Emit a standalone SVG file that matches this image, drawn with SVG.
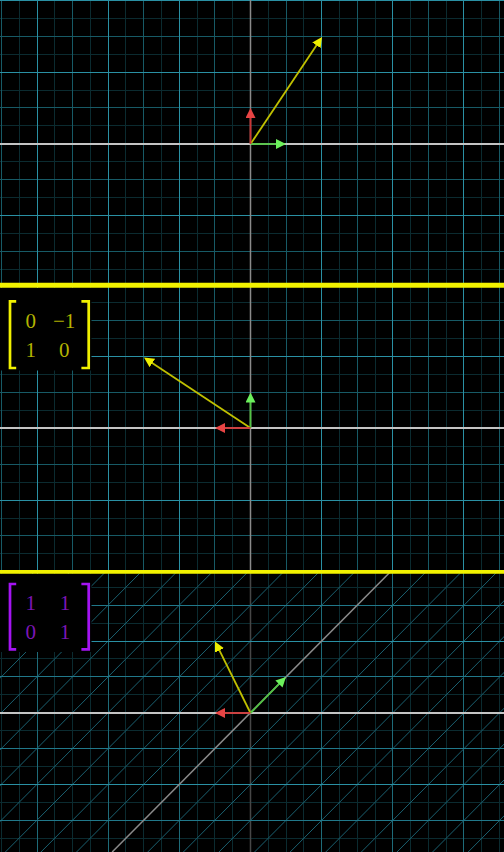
<svg xmlns="http://www.w3.org/2000/svg" width="504" height="852" viewBox="0 0 504 852">
<style>
.gu{stroke:#2a90a4;stroke-width:1;fill:none}
.gh{stroke:#175a66;stroke-width:1;fill:none}
.gh3{stroke:#21788a;stroke-width:1;fill:none}
.gq{stroke:#0b2b30;stroke-width:1;fill:none}
.gv{stroke:#1e6b79;stroke-width:1;fill:none}
.gd{stroke:#1a6070;stroke-width:1;fill:none}
.axh{stroke:#c4c4c4;stroke-width:2;fill:none}
.axv{stroke:#8a8a8a;stroke-width:1.5;fill:none}
.axs{stroke:#474747;stroke-width:1.5;fill:none}
.sep{stroke:#f2f200;fill:none}
.vy{stroke:#c0c000;stroke-width:1.8;fill:none}
.vg{stroke:#52c444;stroke-width:1.8;fill:none}
.vr{stroke:#cc3434;stroke-width:1.8;fill:none}
.mt{font-family:"Liberation Serif","Times New Roman",serif;font-size:21px;text-anchor:middle}
.bk{fill:none;stroke-width:2.7;stroke-linecap:butt;stroke-linejoin:miter}
</style>
<defs>
<marker id="hy" markerUnits="userSpaceOnUse" markerWidth="10" markerHeight="10" viewBox="0 0 10 10" refX="2" refY="5" orient="auto"><path d="M0,0L10,5L0,10z" fill="#eeee00"/></marker>
<marker id="hg" markerUnits="userSpaceOnUse" markerWidth="10" markerHeight="10" viewBox="0 0 10 10" refX="2" refY="5" orient="auto"><path d="M0,0L10,5L0,10z" fill="#6cf05c"/></marker>
<marker id="hr" markerUnits="userSpaceOnUse" markerWidth="10" markerHeight="10" viewBox="0 0 10 10" refX="2" refY="5" orient="auto"><path d="M0,0L10,5L0,10z" fill="#e84444"/></marker>
</defs>
<rect width="504" height="852" fill="#000"/>

<g id="grid-top">
<path class="gq" d="M19.5,0V572M54.5,0V572M90.5,0V572M125.5,0V572M161.5,0V572M197.5,0V572M232.5,0V572M268.5,0V572M303.5,0V572M339.5,0V572M375.5,0V572M410.5,0V572M446.5,0V572M481.5,0V572M0,18.5H504M0,54.5H504M0,90.5H504M0,125.5H504M0,161.5H504M0,197.5H504M0,233.5H504M0,269.5H504M0,302.5H504M0,338.5H504M0,374.5H504M0,410.5H504M0,446.5H504M0,482.5H504M0,518.5H504M0,553.5H504"/>
<path class="gh" d="M1.5,0V572M72.5,0V572M143.5,0V572M214.5,0V572M286.5,0V572M357.5,0V572M428.5,0V572M499.5,0V572M0,36.5H504M0,107.5H504M0,179.5H504M0,251.5H504M0,320.5H504M0,392.5H504M0,464.5H504M0,535.5H504"/>
<path class="gu" d="M37.5,0V572M108.5,0V572M179.5,0V572M321.5,0V572M392.5,0V572M463.5,0V572M0,0.5H504M0,72.5H504M0,215.5H504M0,356.5H504M0,500.5H504"/>
<path class="axv" d="M250.5,0V572"/>
<path class="axh" d="M0,144H504M0,428H504"/>
</g>

<g id="grid-bottom">
<path class="gq" d="M1.5,572V852M19.5,572V852M54.5,572V852M72.5,572V852M90.5,572V852M125.5,572V852M143.5,572V852M161.5,572V852M197.5,572V852M214.5,572V852M232.5,572V852M268.5,572V852M286.5,572V852M303.5,572V852M339.5,572V852M357.5,572V852M375.5,572V852M410.5,572V852M428.5,572V852M446.5,572V852M481.5,572V852M499.5,572V852M0,587.5H504M0,623.5H504M0,658.5H504M0,694.5H504M0,730.5H504M0,766.5H504M0,802.5H504M0,838.5H504"/>
<path class="gv" d="M37.5,572V852M108.5,572V852M179.5,572V852M321.5,572V852M392.5,572V852M463.5,572V852"/>
<path class="axs" d="M250.5,572V852"/>
<path class="gd" d="M34.71,571.5L-243.83,852M70.31,571.5L-208.23,852M105.91,571.5L-172.63,852M141.51,571.5L-137.03,852M177.11,571.5L-101.43,852M212.71,571.5L-65.83,852M248.31,571.5L-30.23,852M283.91,571.5L5.37,852M319.51,571.5L40.97,852M355.11,571.5L76.57,852M426.31,571.5L147.77,852M461.91,571.5L183.37,852M497.51,571.5L218.97,852M533.11,571.5L254.57,852M568.71,571.5L290.17,852M604.31,571.5L325.77,852M639.91,571.5L361.37,852M675.51,571.5L396.97,852M711.11,571.5L432.57,852M746.71,571.5L468.17,852M782.31,571.5L503.77,852"/>
<path class="gh3" d="M0,605.5H504M0,676.5H504M0,748.5H504M0,820.5H504"/>
<path class="gu" d="M0,641.5H504M0,784.5H504"/>
<path class="axv" d="M390.71,571.5L112.17,852"/>
<path class="axh" d="M0,713H504"/>
</g>

<g id="separators">
<path class="sep" stroke-width="5" d="M0,285.3H504"/>
<path class="sep" stroke-width="3.8" d="M0,571.8H504"/>
</g>

<g id="vectors">
<path class="vy" d="M250.5,144L317.55,43.65" marker-end="url(#hy)"/>
<path class="vg" d="M250.5,144L278,144" marker-end="url(#hg)"/>
<path class="vr" d="M250.5,144L250.5,116" marker-end="url(#hr)"/>
<path class="vy" d="M250.5,428L150.66,361.93" marker-end="url(#hy)"/>
<path class="vg" d="M250.5,428L250.5,400.5" marker-end="url(#hg)"/>
<path class="vr" d="M250.5,428L223,428" marker-end="url(#hr)"/>
<path class="vy" d="M250.5,713L218.57,648.66" marker-end="url(#hy)"/>
<path class="vg" d="M250.5,713L280.36,682.67" marker-end="url(#hg)"/>
<path class="vr" d="M250.5,713L223,713" marker-end="url(#hr)"/>
</g>

<g id="matrix-rotation">
<rect x="0" y="288" width="91.5" height="82.5" fill="#000"/>
<path class="bk" stroke="#f0f000" d="M16.2,301.3H10V368H16.2M81.4,301.3H88.7V368H81.4"/>
<g class="mt" fill="#b3b300">
<text x="30.7" y="328.3">0</text>
<text x="64.2" y="328.3">−1</text>
<text x="30.7" y="356.6">1</text>
<text x="64.3" y="356.6">0</text>
</g>
</g>

<g id="matrix-shear">
<rect x="0" y="574" width="91.5" height="78" fill="#000"/>
<path class="bk" stroke="#a414f2" d="M16.2,584H10V649.3H16.2M81.4,584H88.7V649.3H81.4"/>
<g class="mt" fill="#7c16b6">
<text x="30.8" y="610">1</text>
<text x="65" y="610">1</text>
<text x="30.8" y="639.3">0</text>
<text x="65" y="639.3">1</text>
</g>
</g>
</svg>
